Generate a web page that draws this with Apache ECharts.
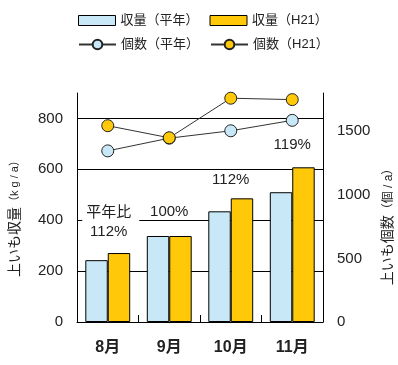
<!DOCTYPE html>
<html><head><meta charset="utf-8">
<script src="https://cdn.jsdelivr.net/npm/echarts@6/dist/echarts.min.js"></script>
<style>html,body{margin:0;padding:0;background:#fff}#c{width:398px;height:365px}</style>
</head><body><div id="c"></div>
<script>
const categories = ['8月', '9月', '10月', '11月'];
const yieldNormal = [243, 338, 435, 510];
const yieldH21 = [271, 338, 486, 608];
const countNormal = [1345, 1445, 1503, 1585];
const countH21 = [1543, 1448, 1759, 1748];
const leftTicks = [0, 200, 400, 600, 800];
const rightTicks = [0, 500, 1000, 1500];
const notes = [
  { cat: '8月', value: 393, text: '平年比\n112%', box: true },
  { cat: '9月', value: 432, text: '100%', box: false },
  { cat: '10月', value: 558, text: '112%', box: false },
  { cat: '11月', value: 695, text: '119%', box: false }
];

const FONT = "'Liberation Sans','Noto Sans CJK JP',sans-serif";
const BLUE = '#C8E8F8', YEL = '#FFC808';
const chart = echarts.init(document.getElementById('c'), null, { renderer: 'canvas' });

chart.setOption({
  animation: false,
  textStyle: { fontFamily: FONT, color: '#222' },
  legend: [
    { left: 73, top: 9, itemWidth: 37, itemHeight: 10, itemGap: 11, icon: 'rect',
      itemStyle: { borderWidth: 1, borderColor: '#000' },
      textStyle: { fontSize: 13, color: '#222', fontFamily: FONT },
      data: ['収量（平年）', '収量（H21）'] },
    { left: 73, top: 33, itemWidth: 37, itemHeight: 12, itemGap: 11,
      textStyle: { fontSize: 13, color: '#222', fontFamily: FONT },
      data: ['個数（平年）', '個数（H21）'] }
  ],
  grid: { left: 77, right: 75, top: 93, bottom: 43, containLabel: false, outerBoundsMode: 'none' },
  xAxis: {
    type: 'category', data: categories,
    axisLine: { lineStyle: { color: '#000', width: 1 } },
    axisTick: { show: true, inside: true, length: 7, interval: 0, lineStyle: { color: '#000' } },
    axisLabel: { fontSize: 16, fontWeight: 'bold', color: '#222', margin: 18, fontFamily: FONT }
  },
  yAxis: [
    { type: 'value', min: 0, max: 900, interval: 200, position: 'left',
      name: '上いも収量{s|（k g / a）}', nameLocation: 'middle', nameRotate: 90, nameGap: 55,
      nameTextStyle: { fontSize: 14, color: '#222', fontFamily: FONT, padding: [0, 17, 0, 0],
        rich: { s: { fontSize: 11, color: '#222' } } },
      axisLine: { show: true, lineStyle: { color: '#000' } },
      axisTick: { show: false },
      axisLabel: { fontSize: 15, color: '#222', margin: 14, showMaxLabel: false,
        formatter: v => leftTicks.includes(v) ? String(v) : '' },
      splitLine: { show: true, lineStyle: { color: ['#000', '#000', '#000', '#000', '#000', 'rgba(0,0,0,0)'], width: 1 } }
    },
    { type: 'value', min: 0, max: 1800, interval: 500, position: 'right',
      name: '上いも個数{s|（個 / a）}', nameLocation: 'middle', nameRotate: 90, nameGap: 52,
      nameTextStyle: { fontSize: 14, color: '#222', fontFamily: FONT, padding: [0, 33, 0, 0],
        rich: { s: { fontSize: 12, color: '#222' } } },
      axisLine: { show: true, lineStyle: { color: '#000' } },
      axisTick: { show: false },
      axisLabel: { fontSize: 15, color: '#222', margin: 14, showMaxLabel: false,
        formatter: v => rightTicks.includes(v) ? String(v) : '' },
      splitLine: { show: false }
    }
  ],
  series: [
    { name: '収量（平年）', type: 'bar', data: yieldNormal, barGap: '0%', barCategoryGap: '27%',
      itemStyle: { color: BLUE, borderColor: '#000', borderWidth: 1 }, z: 3 },
    { name: '収量（H21）', type: 'bar', data: yieldH21,
      itemStyle: { color: YEL, borderColor: '#000', borderWidth: 1 }, z: 3 },
    { name: '個数（平年）', type: 'line', yAxisIndex: 1, data: countNormal,
      symbol: 'circle', symbolSize: 12, z: 5,
      lineStyle: { color: '#333', width: 1 },
      itemStyle: { color: BLUE, borderColor: '#222', borderWidth: 1 } },
    { name: '個数（H21）', type: 'line', yAxisIndex: 1, data: countH21,
      symbol: 'circle', symbolSize: 12, z: 6,
      lineStyle: { color: '#333', width: 1 },
      itemStyle: { color: YEL, borderColor: '#222', borderWidth: 1 } },
    { name: 'notes', type: 'line', yAxisIndex: 0, data: [], z: 4,
      markPoint: {
        symbol: 'rect', symbolSize: 0, silent: true,
        data: notes.map(n => ({
          coord: [n.cat, n.value],
          label: {
            show: true, position: 'inside', formatter: n.text, fontSize: 15, color: '#222',
            fontFamily: FONT, lineHeight: 19, align: 'center',
            offset: n.box ? [3, 0] : [0, 0],
            backgroundColor: n.box ? '#fff' : 'transparent',
            padding: n.box ? [3, 8, 3, 4] : 0
          }
        }))
      }
    }
  ]
});
</script></body></html>
